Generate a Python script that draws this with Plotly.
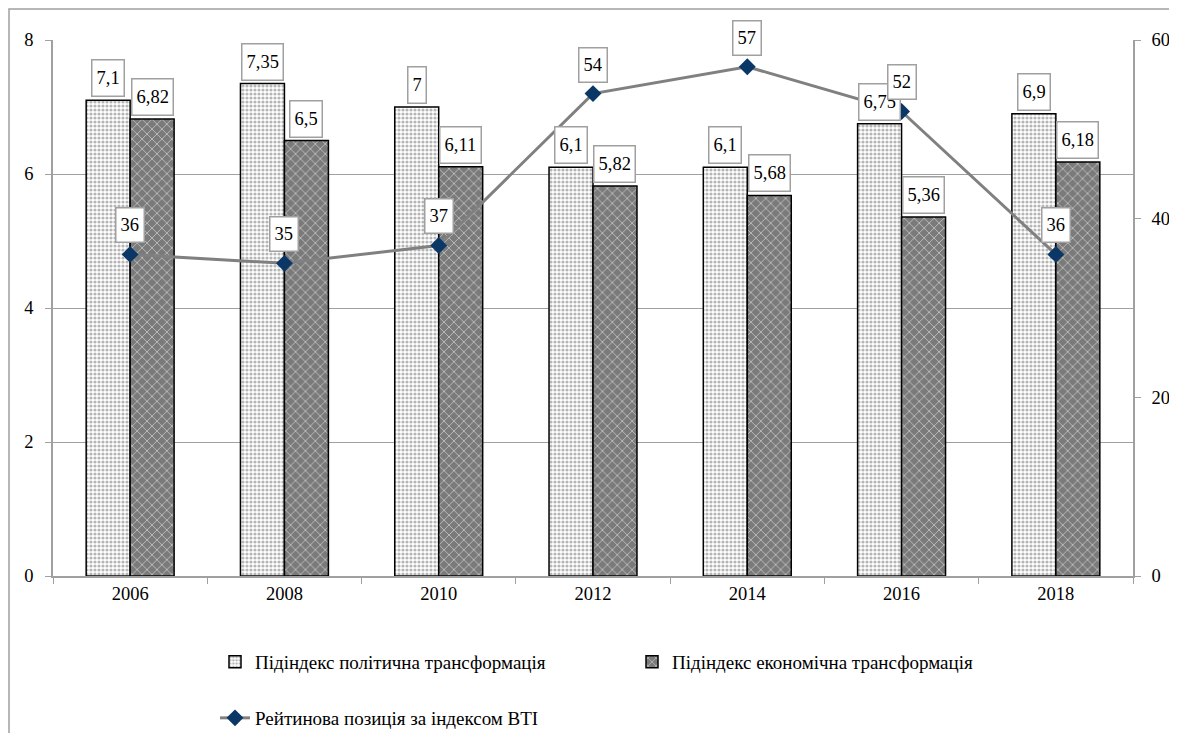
import plotly.graph_objects as go

years = ["2006", "2008", "2010", "2012", "2014", "2016", "2018"]
political = [7.1, 7.35, 7.0, 6.1, 6.1, 6.75, 6.9]
economic = [6.82, 6.5, 6.11, 5.82, 5.68, 5.36, 6.18]
rank_bti = [36, 35, 37, 54, 57, 52, 36]

name_pol = "Підіндекс політична трансформація"
name_eco = "Підіндекс економічна трансформація"
name_rank = "Рейтинова позиція за індексом BTI"

FONT = "Liberation Serif"
GRAY = "#a0a0a0"


def fmt(v):
    return f"{v:g}".replace(".", ",")


fig = go.Figure()
fig.add_trace(go.Bar(
    x=years, y=political, name=name_pol, legend="legend", showlegend=True,
    marker=dict(color="white", line=dict(color="black", width=1.5),
                pattern=dict(shape=".", fgcolor="#6e6e6e", bgcolor="white",
                             size=4, solidity=0.5)),
))
fig.add_trace(go.Bar(
    x=years, y=economic, name=name_eco, legend="legend2", showlegend=True,
    marker=dict(color="#7a7a7a", line=dict(color="black", width=1.5),
                pattern=dict(shape="x", fgcolor="white", bgcolor="#7a7a7a",
                             size=7, solidity=0.25)),
))
fig.add_trace(go.Scatter(
    x=years, y=rank_bti, name=name_rank, yaxis="y2", legend="legend3", showlegend=True,
    mode="lines+markers",
    line=dict(color="#808080", width=3),
    marker=dict(symbol="diamond", size=13, color="#0b3766"),
))

off = 0.1425
ann = []
for i, v in enumerate(political):
    ann.append(dict(x=i - off, y=v, xref="x", yref="y", text=fmt(v)))
for i, v in enumerate(economic):
    ann.append(dict(x=i + off, y=v, xref="x", yref="y", text=fmt(v)))
annotations = []
for a in ann:
    a.update(yanchor="bottom", xanchor="center", showarrow=False, yshift=3,
             bgcolor="white", bordercolor=GRAY, borderwidth=1.5, borderpad=4,
             height=27, font=dict(family=FONT, size=18.5, color="black"))
    annotations.append(a)
for i, v in enumerate(rank_bti):
    annotations.append(dict(x=i, y=v, xref="x", yref="y2", text=fmt(v),
                            yanchor="bottom", xanchor="center", showarrow=False, yshift=11,
                            bgcolor="white", bordercolor=GRAY, borderwidth=1.5, borderpad=4,
                            height=25, font=dict(family=FONT, size=18.5, color="black")))

# page body has an 8px margin; work in page pixels and convert
OFF = 8
W, H = 1161, 725
L, T = 53 - OFF, 40 - OFF
R = W - (1133 - OFF)
B = H - (576 - OFF)
pw, ph = W - L - R, H - T - B


def px_x(p):
    return (p - OFF - L) / pw


def px_y(p):
    return (H - B - (p - OFF)) / ph


legend_common = dict(font=dict(family=FONT, size=19, color="black"),
                     bgcolor="rgba(0,0,0,0)", orientation="h",
                     xanchor="left", yanchor="middle", itemwidth=30)

fig.update_layout(
    width=W, height=H,
    margin=dict(l=L, r=R, t=T, b=B, autoexpand=False),
    paper_bgcolor="white", plot_bgcolor="white",
    font=dict(family=FONT, size=18.5, color="black"),
    showlegend=True,
    barmode="group", bargap=0.43, bargroupgap=0,
    xaxis=dict(type="category", showline=True, linecolor=GRAY, linewidth=1.5,
               ticks="outside", tickson="boundaries", ticklen=6, tickcolor=GRAY,
               showgrid=False, tickfont=dict(family=FONT, size=18.5)),
    yaxis=dict(range=[0, 8], dtick=2, showline=True, linecolor=GRAY, linewidth=1.5,
               ticks="outside", ticklen=6, tickcolor=GRAY,
               showgrid=True, gridcolor=GRAY, gridwidth=1.2, zeroline=False,
               tickfont=dict(family=FONT, size=18.5), ticklabelstandoff=8),
    yaxis2=dict(range=[0, 60], dtick=20, overlaying="y", side="right", showline=True,
                linecolor=GRAY, linewidth=1.5, ticks="outside", ticklen=6, tickcolor=GRAY,
                showgrid=False, zeroline=False, tickfont=dict(family=FONT, size=18.5),
                ticklabelstandoff=7),
    legend=dict(x=px_x(215), y=px_y(662), **legend_common),
    legend2=dict(x=px_x(632), y=px_y(662), **legend_common),
    legend3=dict(x=px_x(215), y=px_y(718), **legend_common),
    annotations=annotations,
    shapes=[dict(type="rect", xref="paper", yref="paper",
                 x0=px_x(9), x1=px_x(1300), y0=px_y(900), y1=px_y(9),
                 line=dict(color=GRAY, width=1.5), fillcolor="rgba(0,0,0,0)", layer="below")],
)

fig.write_html("out.html")
